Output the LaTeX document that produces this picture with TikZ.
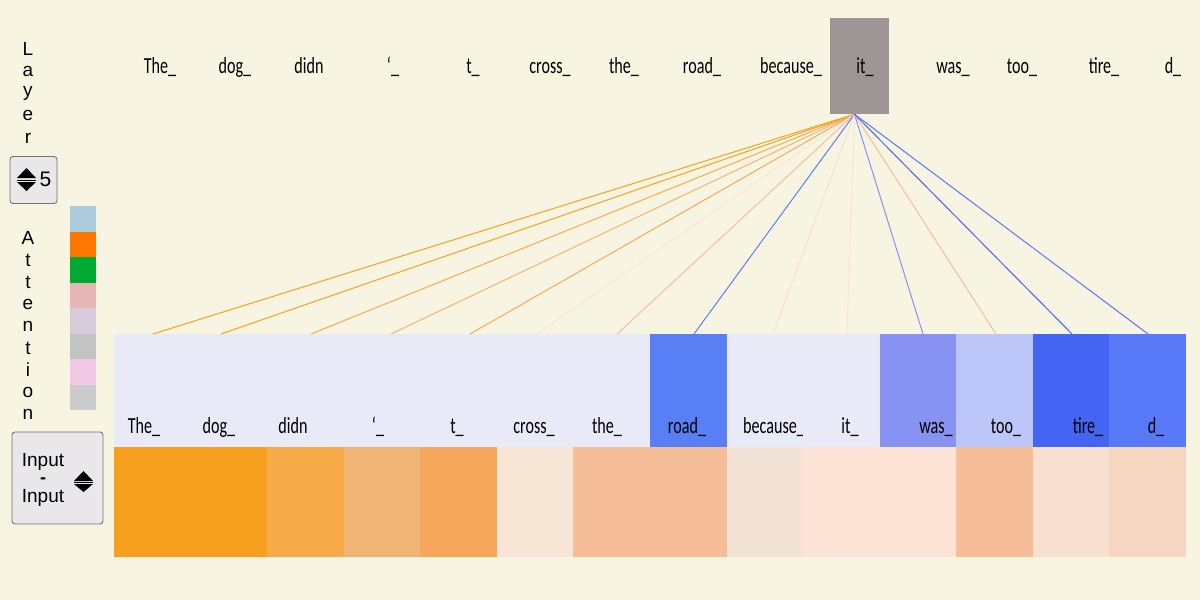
\documentclass[tikz,border=0pt]{standalone}
\usepackage{fontspec}
\setmainfont{Liberation Sans}
\newfontfamily\tokfont[FakeStretch=0.7]{Carlito}
\usetikzlibrary{positioning}
\definecolor{paper}{HTML}{F7F5E2}
\definecolor{itgrey}{HTML}{9E9696}
\definecolor{btnfill}{HTML}{E9E7EA}
\definecolor{btnline}{HTML}{727272}
%% upper band of the cells (query side)
\definecolor{top1}{HTML}{E8EAF7}
\definecolor{top2}{HTML}{E8EAF7}
\definecolor{top3}{HTML}{E8EAF7}
\definecolor{top4}{HTML}{E8EAF7}
\definecolor{top5}{HTML}{E8EAF7}
\definecolor{top6}{HTML}{E8EAF7}
\definecolor{top7}{HTML}{E8EAF7}
\definecolor{top8}{HTML}{5880F4}
\definecolor{top9}{HTML}{E8EAF7}
\definecolor{top10}{HTML}{E8EAF7}
\definecolor{top11}{HTML}{8892F2}
\definecolor{top12}{HTML}{BCC6F8}
\definecolor{top13}{HTML}{4465F4}
\definecolor{top14}{HTML}{5879F8}
%% lower band of the cells
\definecolor{bot1}{HTML}{F7A020}
\definecolor{bot2}{HTML}{F7A020}
\definecolor{bot3}{HTML}{F7AB48}
\definecolor{bot4}{HTML}{F0B474}
\definecolor{bot5}{HTML}{F7A75C}
\definecolor{bot6}{HTML}{F7E5D5}
\definecolor{bot7}{HTML}{F5BE98}
\definecolor{bot8}{HTML}{F5BE98}
\definecolor{bot9}{HTML}{F3E2D6}
\definecolor{bot10}{HTML}{FCE3D5}
\definecolor{bot11}{HTML}{FCE3D5}
\definecolor{bot12}{HTML}{F5BE98}
\definecolor{bot13}{HTML}{F9E1D1}
\definecolor{bot14}{HTML}{F6D6C1}
%% legend swatches
\definecolor{leg1}{HTML}{ABCADB}
\definecolor{leg2}{HTML}{FF7700}
\definecolor{leg3}{HTML}{00AA33}
\definecolor{leg4}{HTML}{E6B5B5}
\definecolor{leg5}{HTML}{D7CBDB}
\definecolor{leg6}{HTML}{C3C3C3}
\definecolor{leg7}{HTML}{F2C9E5}
\definecolor{leg8}{HTML}{CBCBCB}
\tikzset{
  tok/.style={font=\tokfont\fontsize{23}{25}\selectfont, inner sep=0pt, anchor=base},
  letter/.style={font=\fontsize{19}{21}\selectfont, inner sep=0pt},
  btn/.style={draw=btnline, fill=btnfill, rounded corners=3pt, line width=0.9pt},
  swatch/.style={minimum width=26pt, minimum height=25.6pt, inner sep=0pt, anchor=north west},
  cell/.style={minimum width=77pt, inner sep=0pt, outer sep=0pt},
}

\begin{document}
\begin{tikzpicture}[x=1pt,y=-1pt]

  \newcommand\W{76.57};

  \useasboundingbox[fill=paper] (0,0) rectangle (1200,600);

  %% query token box
  \node[fill=itgrey, minimum width=59pt, minimum height=96pt, inner sep=0pt] (src) at (859.5,66) {};
  \coordinate (fan) at ([xshift=-5pt]src.south);

  \foreach \i/\w/\xs/\xb/\ex/\lc in {
    1/The\_/160/144/153/bot,
    2/dog\_/235/219/221/bot,
    3/didn/309/293/311/bot,
    4/‘\_/393/378/391/bot,
    5/t\_/473/457/470/bot,
    6/cross\_/550/534/537/bot,
    7/the\_/624/607/617/bot,
    8/road\_/702/687/694/top,
    9/because\_/791/774/773/bot,
    10/it\_/865/850/847/bot,
    11/was\_/953/936/923/top,
    12/too\_/1022/1006/996/bot,
    13/tire\_/1104/1088/1072/top,
    14/d\_/1173/1156/1148/top}
  {
    \node[cell, anchor=north west, fill=top\i, minimum height=113pt] (a\i) at (114+\W*\i-\W,334) {};
    \node[cell, fill=bot\i, minimum height=110pt, below=0pt of a\i] (b\i) {};
    \coordinate (e\i) at (\ex,334);
    \draw[line width=1pt, draw=\lc\i] (fan) -- (e\i);
    \node[tok] (s\i) at (\xs,73) {\w};
    \node[tok] (t\i) at (\xb,433) {\w};
  }

  %% layer selector
  \foreach \c [count=\k] in {L,a,y,e,r}
    \node[letter] (lay\k) at (28,49+22.3*\k-22.3) {\c};
  \node[btn, minimum width=47pt, minimum height=47pt] (layerbtn) at (33.5,180) {};
  \fill (17,178) -- (36,178) -- (26.5,168) -- cycle;
  \draw[line width=1pt] (17,180) -- (36,180);
  \fill (17,182) -- (36,182) -- (26.5,191) -- cycle;
  \node[letter, font=\fontsize{21}{23}\selectfont] (layernum) at (45.5,179) {5};

  %% attention legend
  \foreach \c [count=\k] in {A,t,t,e,n,t,i,o,n}
    \node[letter] (att\k) at (28,238+22*\k-22) {\c};
  \foreach \k in {1,...,8}
    \node[swatch, fill=leg\k] (sw\k) at (70,206+25.5*\k-25.5) {};

  %% mode selector
  \node[btn, minimum width=91pt, minimum height=92pt] (modebtn) at (57.5,478) {};
  \node[letter] (mode1) at (43,462) {Input};
  \node[letter, font=\bfseries\fontsize{18}{20}\selectfont] (mode2) at (43,480.5) {-};
  \node[letter] (mode3) at (43,497.5) {Input};
  \fill (74,481) -- (93,481) -- (83.5,471) -- cycle;
  \draw[line width=1pt] (74,482.5) -- (93,482.5);
  \fill (74,484) -- (93,484) -- (83.5,492) -- cycle;

\end{tikzpicture}
\end{document}
